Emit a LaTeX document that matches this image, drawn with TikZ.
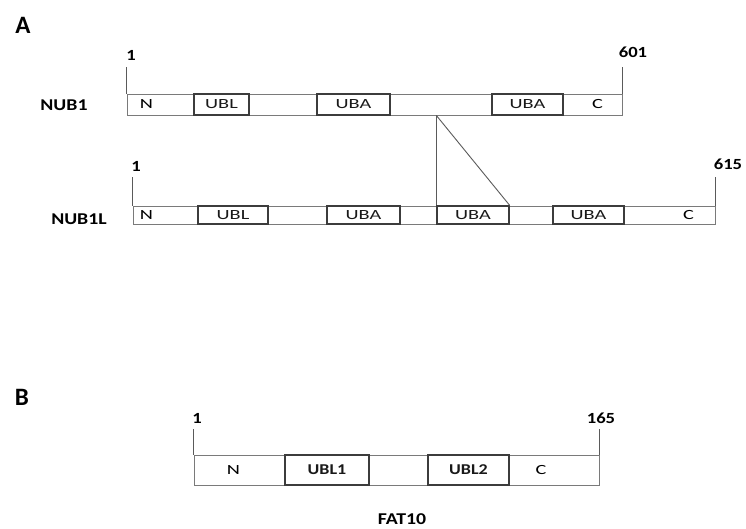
\documentclass[tikz,border=0pt]{standalone}
\usepackage{fontspec}
\setmainfont{Carlito}
\newfontfamily\domfont[FakeStretch=1.45]{Carlito}
\newfontfamily\labfont[FakeStretch=1.2]{Carlito}
\definecolor{barline}{HTML}{7A7A7A}
\definecolor{domline}{HTML}{3C3C3C}
\definecolor{tickline}{HTML}{5A5A5A}
\newcommand{\domsize}{\domfont\fontsize{14}{16}\selectfont}
\tikzset{
  seg/.style={draw=barline, line width=0.9pt, inner sep=0pt, fill=white,
    font=\domsize, text=black!90},
  dom/.style={seg, draw=domline, line width=1.3pt},
  bdom/.style={dom, font=\labfont\bfseries\fontsize{15}{17}\selectfont},
  hA/.style={minimum height=21pt},
  hB/.style={minimum height=18pt},
  hC/.style={minimum height=30pt},
  numlab/.style={font=\labfont\bfseries\fontsize{15.5}{17}\selectfont, inner sep=0pt},
  protlab/.style={font=\labfont\bfseries\fontsize{16.5}{18}\selectfont, inner sep=0pt},
  panellab/.style={font=\bfseries\fontsize{25}{27}\selectfont, inner sep=0pt},
  tickln/.style={draw=tickline, line width=0.9pt},
  connln/.style={draw=tickline, line width=0.9pt}
}
\begin{document}
\begin{tikzpicture}[x=1pt,y=-1pt]
\useasboundingbox (0,0) rectangle (746,529);

\node[panellab] (pA) at (23,25) {A};
\node[panellab] (pB) at (22,397) {B};

% NUB1
\node[protlab] (lnub1) at (64,105) {NUB1};
\node[seg,hA,minimum width=67pt,label={[xshift=-14pt,font=\domsize]center:N}] (a1) at (160.5,104.5) {};
\node[seg,hA,minimum width=68pt] (a3) at (283,104.5) {};
\node[seg,hA,minimum width=102pt] (a5) at (441,104.5) {};
\node[seg,hA,minimum width=59pt,label={[xshift=5pt,font=\domsize]center:C}] (a7) at (592.5,104.5) {};
\node[dom,hA,minimum width=55pt] (a2) at (221.5,104.5) {UBL};
\node[dom,hA,minimum width=73pt] (a4) at (353.5,104.5) {UBA};
\node[dom,hA,minimum width=71pt] (a6) at (527.5,104.5) {UBA};
\draw[tickln] (a1.north west) -- ++(0,-27) coordinate (a1top);
\draw[tickln] (a7.north east) -- ++(0,-27) coordinate (a7top);
\node[numlab] (a1n) at (131,55) {1};
\node[numlab] (a7n) at (633,52) {601};

% NUB1L
\node[protlab] (lnub1l) at (79,219) {NUB1L};
\node[seg,hB,minimum width=65pt,label={[xshift=-19pt,font=\domsize]center:N}] (b1) at (165.5,215) {};
\node[seg,hB,minimum width=59pt] (b3) at (297.5,215) {};
\node[seg,hB,minimum width=37pt] (b5) at (418.5,215) {};
\node[seg,hB,minimum width=44pt] (b7) at (531,215) {};
\node[seg,hB,minimum width=91pt,label={[xshift=19pt,font=\domsize]center:C}] (b9) at (669.5,215) {};
\node[dom,hB,minimum width=70pt] (b2) at (233,215) {UBL};
\node[dom,hB,minimum width=73pt] (b4) at (363.5,215) {UBA};
\node[dom,hB,minimum width=72pt] (b6) at (473,215) {UBA};
\node[dom,hB,minimum width=71pt] (b8) at (588.5,215) {UBA};
\draw[tickln] (b1.north west) -- ++(0,-29) coordinate (b1top);
\draw[tickln] (b9.north east) -- ++(0,-29) coordinate (b9top);
\node[numlab] (b1n) at (136,166) {1};
\node[numlab] (b9n) at (728,164) {615};

% insertion connector
\coordinate (split) at (b6.north west |- a5.south);
\draw[connln] (split) -- (b6.north west);
\draw[connln] (split) -- (b6.north east);

% FAT10
\node[seg,hC,minimum width=91pt,label={[xshift=-6pt,font=\domsize]center:N}] (c1) at (239.5,470) {};
\node[seg,hC,minimum width=59pt] (c3) at (398.5,470) {};
\node[seg,hC,minimum width=90pt,label={[xshift=-13pt,font=\domsize]center:C}] (c5) at (554,470) {};
\node[bdom,hC,minimum width=84pt] (c2) at (327,470) {UBL1};
\node[bdom,hC,minimum width=81pt] (c4) at (468.5,470) {UBL2};
\draw[tickln] (c1.north west) -- ++(0,-26) coordinate (c1top);
\draw[tickln] (c5.north east) -- ++(0,-26) coordinate (c5top);
\node[numlab] (c1n) at (197,418) {1};
\node[numlab] (c5n) at (601,418) {165};
\node[protlab] (lfat) at (402,519) {FAT10};
\end{tikzpicture}
\end{document}
